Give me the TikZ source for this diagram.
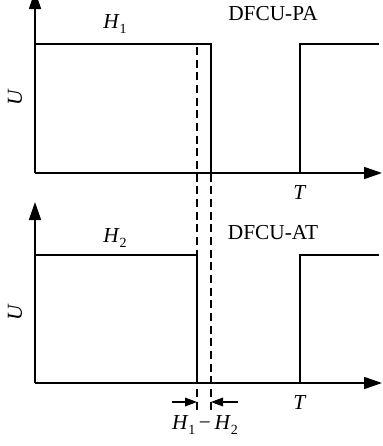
\documentclass[tikz,border=0pt]{standalone}
\usepackage{fontspec}
\setmainfont{Liberation Serif}
\usetikzlibrary{arrows.meta}
\newcommand{\varsub}[2]{\textit{#1}\raisebox{-0.45ex}{\fontsize{10.5}{10.5}\selectfont #2}}
\begin{document}
\begin{tikzpicture}[x=0.75pt,y=-0.75pt,
  axis/.style={line width=1.3pt,-{Triangle[length=13.5pt,width=9pt]}},
  sig/.style={line width=1.0pt},
  dsh/.style={line width=0.9pt,dash pattern=on 6pt off 3.5pt},
  dimarrow/.style={line width=0.8pt,-{Triangle[length=9pt,width=6.5pt]}},
  lbl/.style={inner sep=0pt,font=\fontsize{16}{16}\selectfont}]
\useasboundingbox (0,0) rectangle (382,446);
% top panel
\coordinate (o1) at (35,173);
\coordinate (ytop1) at (35,-9);
\coordinate (xend1) at (382,173);
\draw[axis] (o1) -- (ytop1);
\draw[axis] (o1) -- (xend1);
\draw[sig] (35,44) -- (211,44) -- (211,173);
\draw[sig] (300,173) -- (300,44) -- (379,44);
\node[lbl] (h1) at (115,24) {\varsub{H}{1}};
\node[lbl] (pa) at (273,14) {DFCU-PA};
\node[lbl,rotate=90] (u1) at (15,97) {\textit{U}};
\node[lbl] (t1) at (300,193) {\textit{T}};
% bottom panel
\coordinate (o2) at (35,383);
\coordinate (ytop2) at (35,202);
\coordinate (xend2) at (382,383);
\draw[axis] (o2) -- (ytop2);
\draw[axis] (o2) -- (xend2);
\draw[sig] (35,255) -- (197,255) -- (197,383);
\draw[sig] (300,383) -- (300,255) -- (379,255);
\node[lbl] (h2) at (115,238) {\varsub{H}{2}};
\node[lbl] (at) at (273,233) {DFCU-AT};
\node[lbl,rotate=90] (u2) at (15,312) {\textit{U}};
\node[lbl] (t2) at (300,403) {\textit{T}};
% dashed guides
\coordinate (da) at (197,47);
\coordinate (db) at (197,413);
\coordinate (dc) at (211,47);
\coordinate (dd) at (211,413);
\draw[dsh] (da) -- (db);
\draw[dsh] (dc) -- (dd);
% dimension arrows
\coordinate (al) at (172,402);
\coordinate (ale) at (197,402);
\coordinate (ar) at (238,402);
\coordinate (are) at (211,402);
\draw[dimarrow] (al) -- (ale);
\draw[dimarrow] (ar) -- (are);
\node[lbl] (diff) at (205,425) {\varsub{H}{1}\,−\,\varsub{H}{2}};
\end{tikzpicture}
\end{document}
